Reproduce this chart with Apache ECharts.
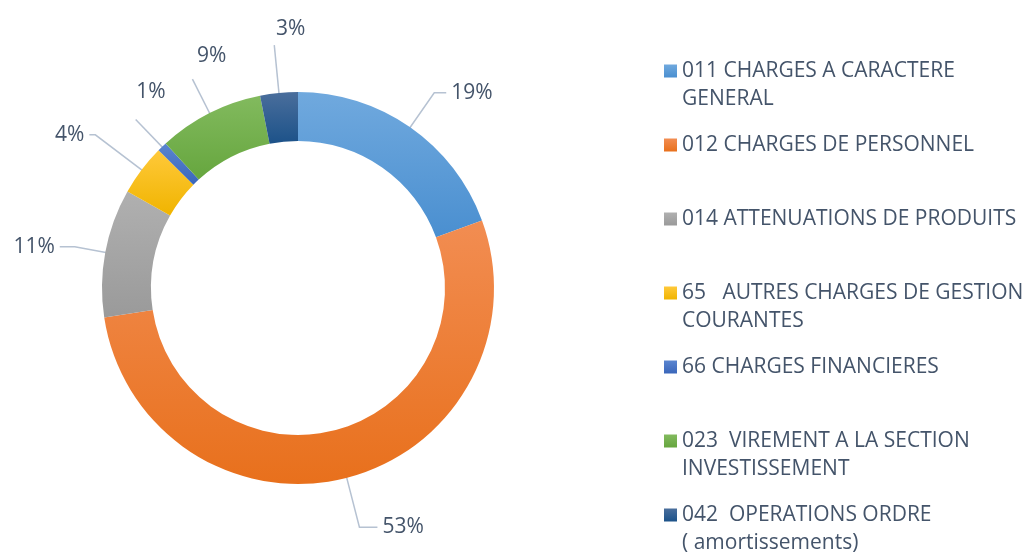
<!DOCTYPE html>
<html>
<head>
<meta charset="utf-8">
<script src="https://cdn.jsdelivr.net/npm/echarts@6/dist/echarts.min.js"></script>
<style>
html, body { margin: 0; padding: 0; background: #fff; }
#main { width: 1024px; height: 552px; }
</style>
</head>
<body>
<div id="main"></div>
<script>
// postes de dépenses (fonctionnement)
var categories = [
    '011 CHARGES A CARACTERE\nGENERAL',
    '012 CHARGES DE PERSONNEL',
    '014 ATTENUATIONS DE PRODUITS',
    '65   AUTRES CHARGES DE GESTION\nCOURANTES',
    '66 CHARGES FINANCIERES',
    '023  VIREMENT A LA SECTION\nINVESTISSEMENT',
    '042  OPERATIONS ORDRE\n( amortissements)'
];
var values = [19.4, 53.2, 10.6, 4.2, 0.8, 8.7, 3.1];

// couleurs haut / bas du dégradé
var topColors = ['#70A9DE', '#F28D52', '#B0B0B0', '#FFC93A', '#5A85D0', '#82BA5E', '#4A6E9C'];
var bottomColors = ['#4A8FD0', '#E8701C', '#9A9A9A', '#F0B400', '#3A66BA', '#66A63E', '#1C5289'];

// traits de rappel et placement des étiquettes du haut
var lineLen = [66, 75, 55, 82, 62, 62, 72];
var lineLen2 = [12, 18, 15, 6, 0, 0, 0];
var labelShift = [0, 0, 0, 0, -30, -34, -31];
var labelLift = [0, 0, 0, 0, 54, 46, 32];

var textColor = '#44546A';
var font = 'Open Sans';

var dom = document.getElementById('main');
var myChart = echarts.init(dom, null, { renderer: 'canvas' });

function grad(i) {
    return new echarts.graphic.LinearGradient(0, 0, 0, 1, [
        { offset: 0, color: topColors[i] },
        { offset: 1, color: bottomColors[i] }
    ]);
}

var ringData = [];
var labelData = [];
for (var i = 0; i < categories.length; i++) {
    ringData.push({
        name: categories[i],
        value: values[i],
        itemStyle: { color: grad(i) }
    });
    var item = {
        name: categories[i],
        value: values[i],
        labelLine: { length: lineLen[i], length2: lineLen2[i] }
    };
    if (labelLift[i]) {
        // étiquettes au-dessus du trait
        item.label = { distanceToLabelLine: labelShift[i], formatter: '{d}%\n ', lineHeight: labelLift[i] };
    }
    labelData.push(item);
}

var option = {
    backgroundColor: '#fff',
    animation: false,
    legend: {
        orient: 'vertical',
        left: 659,
        top: 24,
        height: 600,
        itemWidth: 13,
        itemHeight: 13,
        itemGap: -10,
        icon: 'rect',
        selectedMode: false,
        data: categories,
        formatter: function (name) {
            return '\n' + name + (name.indexOf('\n') < 0 ? '\n' : '');
        },
        textStyle: {
            color: textColor,
            fontFamily: font,
            fontSize: 21,
            lineHeight: 28
        }
    },
    series: [
        {
            name: 'ring',
            type: 'pie',
            radius: [147, 196],
            center: [298, 288],
            startAngle: 90,
            silent: true,
            label: { show: false },
            labelLine: { show: false },
            data: ringData
        },
        {
            name: 'labels',
            type: 'pie',
            radius: [0, 172],
            center: [298, 288],
            startAngle: 90,
            silent: true,
            avoidLabelOverlap: false,
            percentPrecision: 0,
            itemStyle: { color: 'rgba(0,0,0,0)' },
            label: {
                show: true,
                position: 'outside',
                formatter: '{d}%',
                color: textColor,
                fontFamily: font,
                fontSize: 21,
                distanceToLabelLine: 5
            },
            labelLine: {
                show: true,
                smooth: false,
                lineStyle: { color: '#B6C2D2', width: 1.5 }
            },
            data: labelData
        }
    ]
};

if (option && typeof option === 'object') {
    myChart.setOption(option, true);
}
</script>
</body>
</html>
